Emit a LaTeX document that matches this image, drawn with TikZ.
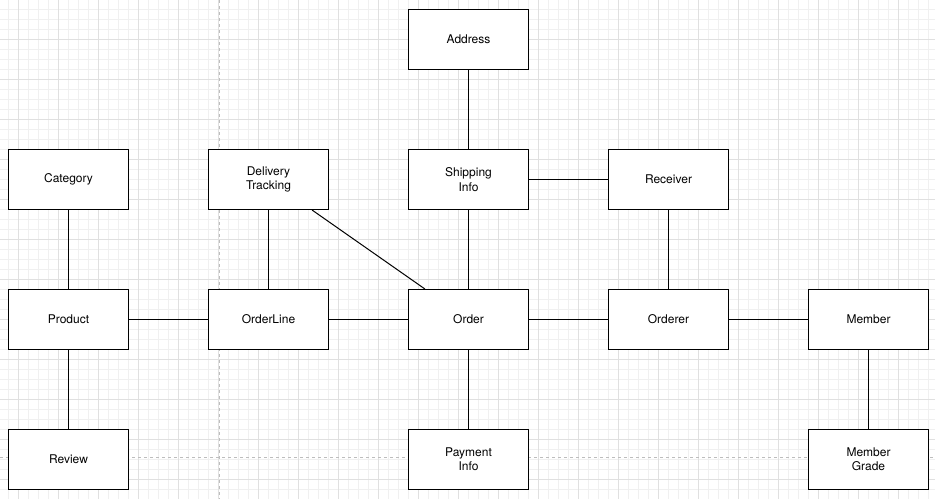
\documentclass[tikz,border=0pt]{standalone}
\usepackage{fontspec}
\setmainfont{TeX Gyre Heros}
\definecolor{minorc}{HTML}{F0F0F0}
\definecolor{majorc}{HTML}{E0E0E0}
\definecolor{pagec}{HTML}{BDBDBD}
\tikzset{
  entity/.style={draw=black, line width=1pt, fill=white, minimum width=120pt, minimum height=60pt,
    inner sep=0pt, align=center, font=\fontsize{12}{14.4}\selectfont},
  link/.style={draw=black, line width=1pt},
  minorline/.style={draw=minorc, line width=0.8pt},
  majorline/.style={draw=majorc, line width=0.8pt},
  pageline/.style={draw=pagec, line width=0.8pt, dash pattern=on 3pt off 3pt}
}
\begin{document}
\begin{tikzpicture}[x=1pt,y=-1pt]
\useasboundingbox (0,0) rectangle (935,499);
\fill[white] (0,0) rectangle (935,499);
% grid
\foreach \x in {-1.5,8.5,...,935} \draw[minorline] (\x,0) -- (\x,499);
\foreach \y in {-0.5,9.5,...,499} \draw[minorline] (0,\y) -- (935,\y);
\foreach \x in {18.5,58.5,...,935} \draw[majorline] (\x,0) -- (\x,499);
\foreach \y in {39.5,79.5,...,499} \draw[majorline] (0,\y) -- (935,\y);
% page breaks
\draw[pageline] (219,0) -- (219,499);
\draw[pageline] (0,457.5) -- (935,457.5);
% entities
\node[entity] (address)   at (468.5,39.5)  {Address};
\node[entity] (category)  at (68.5,179.5)  {Category};
\node[entity] (dt)        at (268.5,179.5) {Delivery\\Tracking};
\node[entity] (ship)      at (468.5,179.5) {Shipping\\Info};
\node[entity] (receiver)  at (668.5,179.5) {Receiver};
\node[entity] (product)   at (68.5,319.5)  {Product};
\node[entity] (orderline) at (268.5,319.5) {OrderLine};
\node[entity] (order)     at (468.5,319.5) {Order};
\node[entity] (orderer)   at (668.5,319.5) {Orderer};
\node[entity] (member)    at (868.5,319.5) {Member};
\node[entity] (review)    at (68.5,459.5)  {Review};
\node[entity] (payment)   at (468.5,459.5) {Payment\\Info};
\node[entity] (grade)     at (868.5,459.5) {Member\\Grade};
% connectors
\draw[link] (address) -- (ship);
\draw[link] (ship) -- (receiver);
\draw[link] (ship) -- (order);
\draw[link] (dt) -- (orderline);
\draw[link] (dt) -- (order);
\draw[link] (category) -- (product);
\draw[link] (product) -- (orderline);
\draw[link] (orderline) -- (order);
\draw[link] (order) -- (orderer);
\draw[link] (orderer) -- (member);
\draw[link] (receiver) -- (orderer);
\draw[link] (product) -- (review);
\draw[link] (order) -- (payment);
\draw[link] (member) -- (grade);
\end{tikzpicture}
\end{document}
